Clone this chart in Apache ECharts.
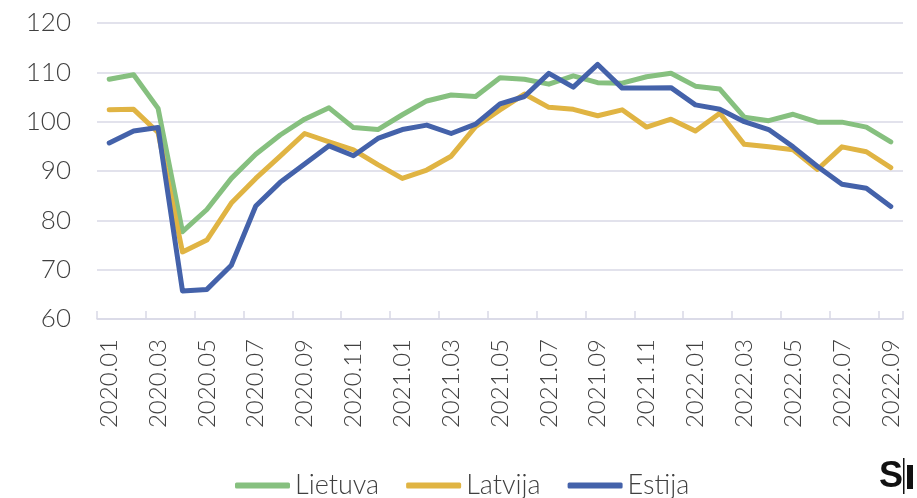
<!DOCTYPE html>
<html>
<head>
<meta charset="utf-8">
<script src="https://cdn.jsdelivr.net/npm/echarts@6/dist/echarts.min.js"></script>
<style>
  html, body { margin: 0; padding: 0; background: #fff; }
  #chart { width: 917px; height: 498px; }
</style>
</head>
<body>
<div id="chart"></div>
<script>
  // months 2020.01 .. 2022.09
  var months = [
    '2020.01','2020.02','2020.03','2020.04','2020.05','2020.06','2020.07','2020.08','2020.09','2020.10','2020.11','2020.12',
    '2021.01','2021.02','2021.03','2021.04','2021.05','2021.06','2021.07','2021.08','2021.09','2021.10','2021.11','2021.12',
    '2022.01','2022.02','2022.03','2022.04','2022.05','2022.06','2022.07','2022.08','2022.09'
  ];
  var lietuva = [108.6, 109.5, 102.7, 77.7, 82.2, 88.5, 93.4, 97.3, 100.5, 102.8, 98.8,
    98.4, 101.4, 104.2, 105.4, 105.1, 108.9, 108.6, 107.6, 109.3, 107.9, 107.8,
    109.1, 109.8, 107.2, 106.6, 100.9, 100.2, 101.5, 99.9, 99.9, 98.9, 95.9];
  var latvija = [102.4, 102.5, 97.8, 73.6, 76.0, 83.5, 88.5, 93.0, 97.6, 95.9, 94.3,
    91.3, 88.5, 90.2, 93.0, 99.0, 102.4, 105.6, 102.9, 102.5, 101.2, 102.4,
    98.9, 100.5, 98.1, 101.7, 95.4, 94.9, 94.3, 90.3, 94.9, 93.9, 90.7];
  var estija = [95.7, 98.1, 98.8, 65.7, 66.0, 70.9, 82.9, 87.7, 91.4, 95.1, 93.1,
    96.6, 98.4, 99.3, 97.6, 99.5, 103.6, 105.1, 109.8, 107.0, 111.6, 106.8,
    106.8, 106.9, 103.4, 102.5, 100.0, 98.4, 94.9, 90.9, 87.3, 86.5, 82.8];

  var font = 'Lato';
  var chart = echarts.init(document.getElementById('chart'));

  function line(name, data, color){
    return {
      name: name,
      type: 'line',
      data: data,
      showSymbol: false,
      symbol: 'none',
      color: color,
      lineStyle: { width: 5, color: color, cap: 'round', join: 'round' }
    };
  }

  var option = {
    animation: false,
    grid: { left: 97, right: 14, top: 23, bottom: 179 },
    legend: {
      left: 230,
      top: 467,
      icon: 'roundRect',
      itemWidth: 55,
      itemHeight: 6,
      itemGap: 27,
      textStyle: { fontFamily: font, fontWeight: 300, fontSize: 27, color: '#404040' },
      data: ['Lietuva', 'Latvija', 'Estija']
    },
    xAxis: {
      type: 'category',
      data: months,
      boundaryGap: true,
      axisLine: { lineStyle: { color: '#d9d9e6', width: 1.5 } },
      axisTick: { show: true, inside: true, length: 8, interval: 1, lineStyle: { color: '#d9d9e6', width: 1.5 } },
      axisLabel: {
        interval: 1,
        rotate: 90,
        margin: 20,
        fontFamily: font,
        fontWeight: 300,
        fontSize: 24,
        color: '#404040'
      }
    },
    yAxis: {
      type: 'value',
      min: 60,
      max: 120,
      interval: 10,
      axisLine: { show: false },
      axisTick: { show: false },
      splitLine: { lineStyle: { color: '#d9d9e6', width: 1.5 } },
      axisLabel: { margin: 26, fontFamily: font, fontWeight: 300, fontSize: 26, color: '#404040' }
    },
    series: [
      line('Lietuva', lietuva, '#86c07f'),
      line('Latvija', latvija, '#e0b443'),
      line('Estija', estija, '#4462aa')
    ],
    graphic: [
      { type: 'text', left: 879, top: 459, style: { text: 'S', font: 'bold 36px "Liberation Sans", sans-serif', fill: '#111' } },
      { type: 'rect', shape: { x: 903, y: 458, width: 1.5, height: 36 }, style: { fill: '#111' } },
      { type: 'rect', shape: { x: 907, y: 465, width: 6, height: 24 }, style: { fill: '#111' } }
    ]
  };
  chart.setOption(option);
</script>
</body>
</html>
